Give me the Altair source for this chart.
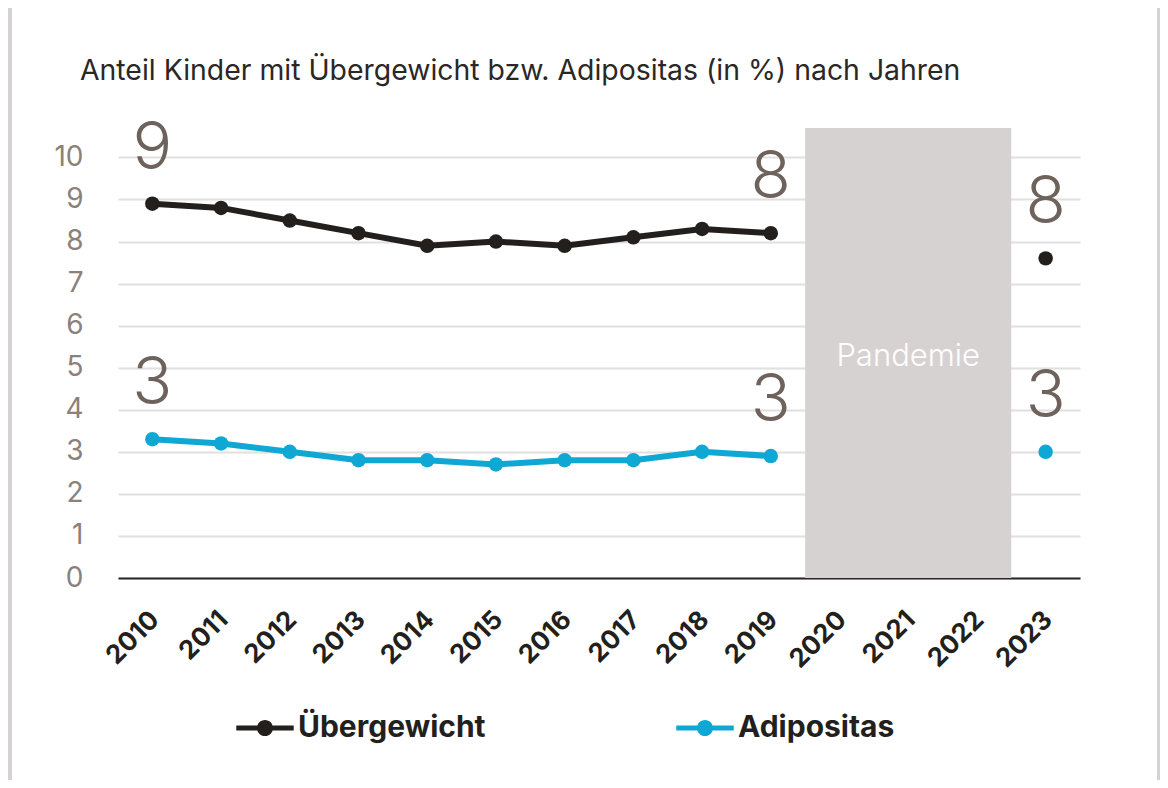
import altair as alt
import pandas as pd

# ---- data ----
years = [2010, 2011, 2012, 2013, 2014, 2015, 2016, 2017, 2018, 2019, 2020, 2021, 2022, 2023]
ueber = [8.9, 8.8, 8.5, 8.2, 7.9, 8.0, 7.9, 8.1, 8.3, 8.2, None, None, None, 7.6]
adipo = [3.3, 3.2, 3.0, 2.8, 2.8, 2.7, 2.8, 2.8, 3.0, 2.9, None, None, None, 3.0]
series_names = ["Übergewicht", "Adipositas"]
series_colors = ["#231f1c", "#0fa8d5"]
label_years = [2010, 2019, 2023]
line_end_year = 2019
pandemic = {"start": 2019.5, "end": 2022.5, "bottom": 0, "top": 10.7, "label": "Pandemie"}
y_ticks = list(range(0, 11))
title_text = "Anteil Kinder mit Übergewicht bzw. Adipositas (in %) nach Jahren"

rows = []
for i, yr in enumerate(years):
    for name, vals in zip(series_names, [ueber, adipo]):
        if vals[i] is not None:
            rows.append({"Jahr": yr, "Serie": name, "Wert": vals[i]})
df = pd.DataFrame(rows)
df_line = df[df["Jahr"] <= line_end_year]
df_labels = df[df["Jahr"].isin(label_years)]
df_pan = pd.DataFrame([{
    "start": pandemic["start"], "end": pandemic["end"],
    "bottom": pandemic["bottom"], "top": pandemic["top"],
    "mid_x": (pandemic["start"] + pandemic["end"]) / 2,
    "mid_y": (pandemic["bottom"] + pandemic["top"]) / 2,
    "label": pandemic["label"],
}])

FONT = "Inter"
W, H = 962, 450

xscale = alt.Scale(domain=[years[0] - 0.5, years[-1] + 0.5], nice=False, zero=False)
yscale = alt.Scale(domain=[pandemic["bottom"], pandemic["top"]], nice=False, zero=True)
xaxis = alt.Axis(values=years, format="d")
yaxis = alt.Axis(values=y_ticks)

legend_symbol = ("M-1,-0.09H-0.25V0.09H-1Z M0.25,-0.09H1V0.09H0.25Z "
                 "M-0.28,0A0.28,0.28 0 1,1 0.28,0A0.28,0.28 0 1,1 -0.28,0Z")
color = alt.Color(
    "Serie:N",
    scale=alt.Scale(domain=series_names, range=series_colors),
    legend=alt.Legend(
        title=None, orient="none", direction="horizontal",
        legendX=118, legendY=571,
        symbolType=legend_symbol, symbolSize=3300, symbolStrokeWidth=0,
        labelFont=FONT, labelFontSize=30, labelFontWeight="bold", labelColor="#231f1c",
        labelOffset=4, columnPadding=190, padding=0, labelLimit=400,
    ),
)

strips = alt.Chart(pd.DataFrame({"s": [0]})).mark_rect(color="#d7d2d2").encode(
    x=alt.value(-110), x2=alt.value(-106), y=alt.value(-120), y2=alt.value(652)
) + alt.Chart(pd.DataFrame({"s": [0]})).mark_rect(color="#d7d2d2").encode(
    x=alt.value(1039), x2=alt.value(1045), y=alt.value(-120), y2=alt.value(652)
)

pan_rect = alt.Chart(df_pan).mark_rect(color="#d7d2d2").encode(
    x=alt.X("start:Q", scale=xscale, axis=xaxis, title=None),
    x2="end:Q",
    y=alt.Y("bottom:Q", scale=yscale, axis=yaxis, title=None),
    y2="top:Q",
)
pan_text = alt.Chart(df_pan).mark_text(
    color="white", font=FONT, fontSize=31, fontWeight=300, baseline="middle", dy=4
).encode(
    x=alt.X("mid_x:Q", scale=xscale, axis=xaxis, title=None),
    y=alt.Y("mid_y:Q", scale=yscale, axis=yaxis, title=None),
    text="label:N",
)

lines = alt.Chart(df_line).mark_line(strokeWidth=6).encode(
    x=alt.X("Jahr:Q", scale=xscale, axis=xaxis, title=None),
    y=alt.Y("Wert:Q", scale=yscale, axis=yaxis, title=None),
    color=color,
    detail="Serie:N",
)
points = alt.Chart(df).mark_point(filled=True, size=210, opacity=1).encode(
    x=alt.X("Jahr:Q", scale=xscale, axis=xaxis, title=None),
    y=alt.Y("Wert:Q", scale=yscale, axis=yaxis, title=None),
    color=color,
)
nums = alt.Chart(df_labels).mark_text(
    font=FONT, fontSize=66, fontWeight=300, color="#6d625c", baseline="alphabetic", dy=-35
).encode(
    x=alt.X("Jahr:Q", scale=xscale, axis=xaxis, title=None),
    y=alt.Y("Wert:Q", scale=yscale, axis=yaxis, title=None),
    text=alt.Text("Wert:Q", format=".0f"),
)

chart = alt.layer(strips, pan_rect, pan_text, lines, points, nums).properties(
    width=W, height=H,
    title=alt.TitleParams(
        title_text, anchor="start", dx=72, font=FONT, fontSize=28.4,
        fontWeight="normal", color="#2b2725", offset=-100, baseline="alphabetic",
    ),
    autosize=alt.AutoSizeParams(type="none"),
    padding={"left": 110, "top": 120, "right": 80, "bottom": 202},
    background="white",
).configure_view(stroke=None).configure_axisX(
    grid=False, ticks=False, domain=True, domainColor="#2b2725", domainWidth=2,
    labelAngle=-45, labelFont=FONT, labelFontSize=26, labelFontWeight="bold",
    labelColor="#231f1c", labelPadding=28, labelOffset=-7, labelOverlap=False,
).configure_axisY(
    grid=True, gridColor="#e2dfdf", gridWidth=2, ticks=False, domain=False,
    labelFont=FONT, labelFontSize=28, labelColor="#8c817a", labelPadding=35,
)

chart.save("out.html", embed_options={"renderer": "svg", "actions": False})
